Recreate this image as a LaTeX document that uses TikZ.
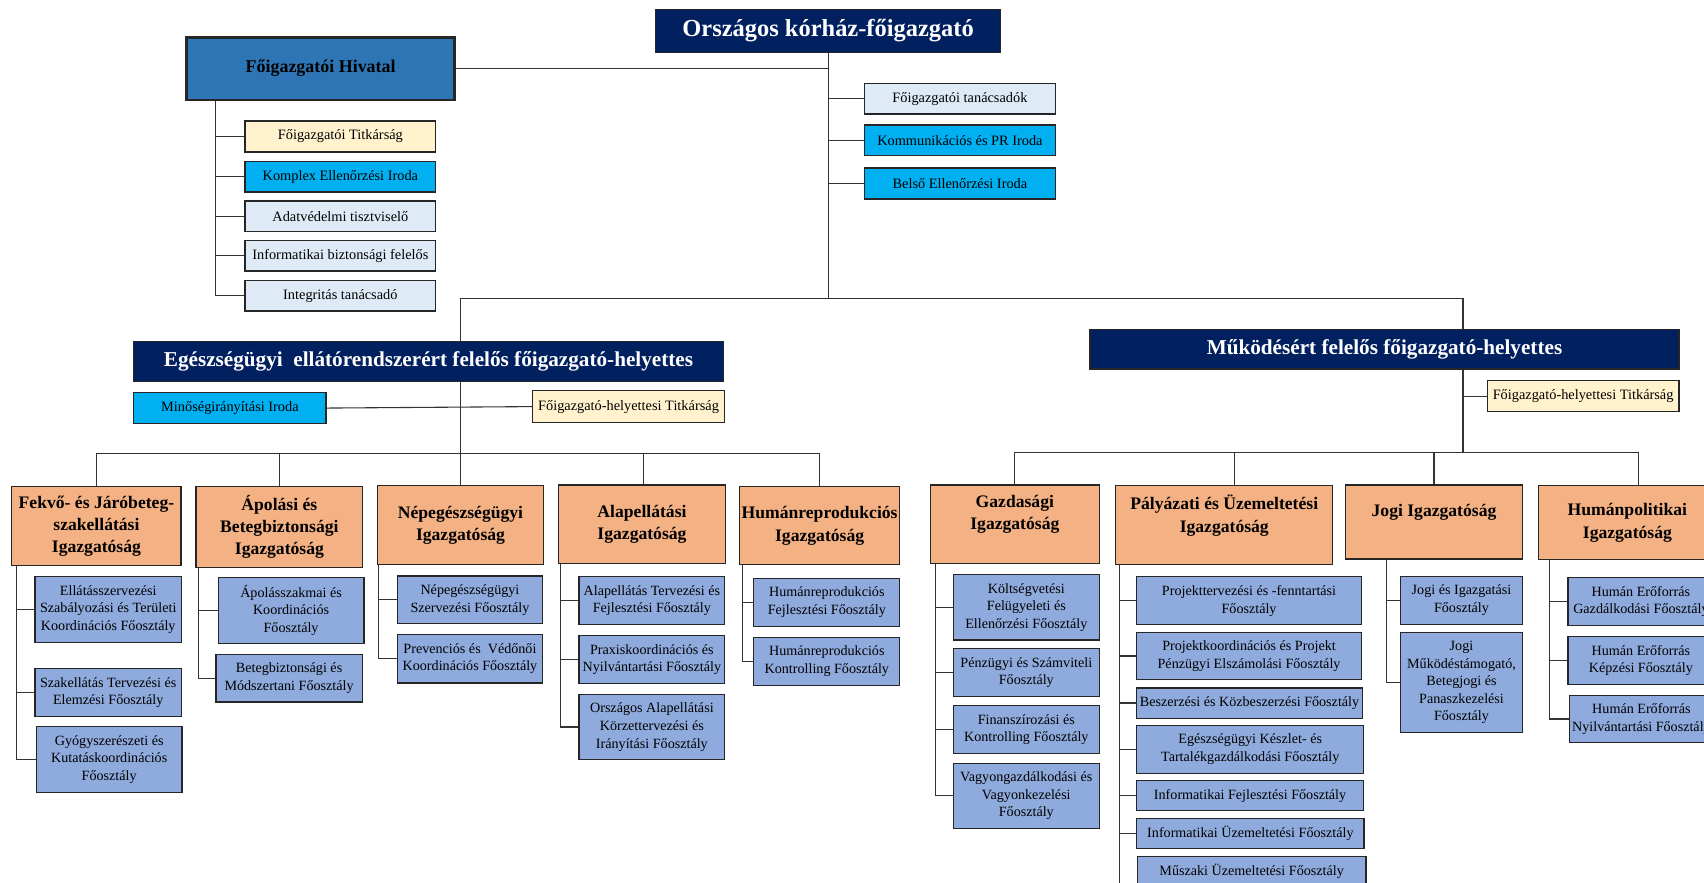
\documentclass[tikz,border=0pt]{standalone}
\usepackage{fontspec}
\setmainfont{Liberation Serif}
\definecolor{navy}{HTML}{002060}
\definecolor{hivblue}{HTML}{2E75B6}
\definecolor{cyanbox}{HTML}{00B0F0}
\definecolor{lightbox}{HTML}{DEEBF7}
\definecolor{creambox}{HTML}{FFF2CC}
\definecolor{orng}{HTML}{F4B183}
\definecolor{subblue}{HTML}{8FAADC}
\tikzset{
  bx/.style={draw=black!85, line width=1.1pt, inner sep=0.5pt, align=center,
    font=\fontsize{13.2}{16}\selectfont},
  sub/.style={bx, fill=subblue, font=\fontsize{13}{16.2}\selectfont},
  cyanb/.style={bx, fill=cyanbox},
  lightb/.style={bx, fill=lightbox},
  creamb/.style={bx, fill=creambox},
  dir/.style={bx, fill=orng, font=\bfseries\fontsize{16.2}{20.5}\selectfont},
  dirtext/.style={align=center, inner sep=0pt, font=\bfseries\fontsize{16.2}{20.5}\selectfont},
  hd/.style={bx, fill=navy, text=white, font=\bfseries\fontsize{19.5}{23}\selectfont},
  conn/.style={draw=black!80, line width=1pt},
}
\newcommand{\obox}[7]{%
  \node[#6, minimum width={(#4-#2)*1pt}, minimum height={(#5-#3)*1pt}] (#1) at ({(#2+#4)/2},{(#3+#5)/2}) {#7};}
\newcommand{\oboxup}[8]{%
  \node[#6, minimum width={(#4-#2)*1pt}, minimum height={(#5-#3)*1pt},
    label={[dirtext, yshift=#8]center:#7}] (#1) at ({(#2+#4)/2},{(#3+#5)/2}) {};}
\newcommand{\spine}[3]{%
  \foreach \c in {#3} {\draw[conn] ([xshift=#2pt]#1.south west) |- (\c.west);}}
\begin{document}
\begin{tikzpicture}[x=1pt,y=-1pt]
\useasboundingbox (0,0) rectangle (1568,812.5);
\clip (0,0) rectangle (1568,812.5);

% top level
\obox{top}{603}{8.6}{921}{48.5}{hd, font=\bfseries\fontsize{22.5}{26}\selectfont}{Országos kórház-főigazgató}
\obox{hiv}{171.8}{34.3}{418.3}{92}{bx, fill=hivblue, line width=2.6pt, font=\bfseries\fontsize{16.5}{19}\selectfont}{Főigazgatói Hivatal}
\obox{h1}{225.4}{111.3}{401}{139.8}{creamb}{Főigazgatói Titkárság}
\obox{h2}{225.4}{148.7}{401}{176.6}{cyanb}{Komplex Ellenőrzési Iroda}
\obox{h3}{225.4}{184.9}{401}{212.8}{lightb}{Adatvédelmi tisztviselő}
\obox{h4}{225.4}{221}{401}{249.3}{lightb}{Informatikai biztonsági felelős}
\obox{h5}{225.4}{257.9}{401}{286.1}{lightb}{Integritás tanácsadó}
\obox{r1}{795.6}{76.7}{971}{104.9}{lightb}{Főigazgatói tanácsadók}
\obox{r2}{795.6}{115}{971}{143.2}{cyanb}{Kommunikációs és PR Iroda}
\obox{r3}{795.6}{154.6}{971}{183.1}{cyanb}{Belső Ellenőrzési Iroda}

% deputies
\obox{ld}{123.2}{314.3}{665.4}{351.1}{hd}{Egészségügyi\ \ ellátórendszerért felelős főigazgató-helyettes}
\obox{mir}{123.2}{361}{300}{390}{cyanb}{Minőségirányítási Iroda}
\obox{lt}{490.3}{359.7}{666.4}{388.6}{creamb}{Főigazgató-helyettesi Titkárság}
\obox{rd}{1003}{303}{1545}{339.5}{hd}{Működésért felelős főigazgató-helyettes}
\obox{rt}{1368.5}{350.5}{1545}{378.7}{creamb}{Főigazgató-helyettesi Titkárság}

% directorates
\obox{fek}{10.9}{447.7}{166.6}{520.7}{dir}{Fekvő- és Járóbeteg-\\szakellátási\\Igazgatóság}
\obox{apo}{180.4}{447.7}{333.8}{522.2}{dir}{Ápolási és\\Betegbiztonsági\\Igazgatóság}
\obox{nep}{347.5}{447}{500}{519.8}{dir}{Népegészségügyi\\Igazgatóság}
\obox{alap}{513.9}{446.2}{667.6}{518.6}{dir}{Alapellátási\\Igazgatóság}
\obox{hrep}{680.4}{447.7}{828}{519.8}{dir}{Humánreprodukciós\\Igazgatóság}
\oboxup{gazd}{856}{446.2}{1011.7}{518.6}{dir}{Gazdasági\\Igazgatóság}{9pt}
\oboxup{paly}{1026.7}{447}{1226.4}{519.8}{dir}{Pályázati és Üzemeltetési\\Igazgatóság}{9pt}
\oboxup{jogi}{1238.3}{446.2}{1400.8}{514.3}{dir}{Jogi Igazgatóság}{9pt}
\obox{hpol}{1416}{447}{1579}{515.2}{dir}{Humánpolitikai\\Igazgatóság}

% departments
\obox{s11}{32.2}{530.5}{167}{591}{sub}{Ellátásszervezési\\Szabályozási és Területi\\Koordinációs Főosztály}
\obox{s12}{32.2}{615.5}{167}{659}{sub}{Szakellátás Tervezési és\\Elemzési Főosztály}
\obox{s13}{33.5}{668.5}{167.5}{729}{sub}{Gyógyszerészeti és\\Kutatáskoordinációs\\Főosztály}
\obox{s21}{200.7}{531.4}{335}{591.9}{sub}{Ápolásszakmai és\\Koordinációs\\Főosztály}
\obox{s22}{198.8}{602}{333.2}{646}{sub}{Betegbiztonsági és\\Módszertani Főosztály}
\obox{s31}{365.4}{530}{499.5}{574}{sub}{Népegészségügyi\\Szervezési Főosztály}
\obox{s32}{365.4}{584}{499.5}{628.4}{sub}{Prevenciós és\ \ Védőnői\\Koordinációs Főosztály}
\obox{s41}{532.7}{530.8}{667}{574.7}{sub}{Alapellátás Tervezési és\\Fejlesztési Főosztály}
\obox{s42}{532.7}{585}{667}{629}{sub}{Praxiskoordinációs és\\Nyilvántartási Főosztály}
\obox{s43}{532.7}{639}{667}{699}{sub}{Országos Alapellátási\\Körzettervezési és\\Irányítási Főosztály}
\obox{s51}{693.7}{532}{828}{576.2}{sub}{Humánreprodukciós\\Fejlesztési Főosztály}
\obox{s52}{693.7}{586.3}{828}{630.5}{sub}{Humánreprodukciós\\Kontrolling Főosztály}
\obox{s61}{877.4}{528.7}{1011.4}{589}{sub}{Költségvetési\\Felügyeleti és\\Ellenőrzési Főosztály}
\obox{s62}{877.4}{597}{1011.4}{641.2}{sub}{Pénzügyi és Számviteli\\Főosztály}
\obox{s63}{877.4}{649.2}{1011.4}{693.4}{sub}{Finanszírozási és\\Kontrolling Főosztály}
\obox{s64}{877.4}{702.3}{1011.4}{762.4}{sub}{Vagyongazdálkodási és\\Vagyonkezelési\\Főosztály}
\obox{s71}{1046}{530.8}{1252.7}{575}{sub}{Projekttervezési és -fenntartási\\Főosztály}
\obox{s72}{1046}{581.7}{1252.7}{625.6}{sub}{Projektkoordinációs és Projekt\\Pénzügyi Elszámolási Főosztály}
\obox{s73}{1046}{633}{1253.6}{660.8}{sub}{Beszerzési és Közbeszerzési Főosztály}
\obox{s74}{1046}{667.6}{1254.9}{711.5}{sub}{Egészségügyi Készlet- és\\Tartalékgazdálkodási Főosztály}
\obox{s75}{1046}{718.2}{1254.6}{746.1}{sub}{Informatikai Fejlesztési Főosztály}
\obox{s76}{1046}{752.9}{1255.2}{780.8}{sub}{Informatikai Üzemeltetési Főosztály}
\node[sub, minimum width=210.4pt, minimum height=42.5pt, anchor=north west] (s77) at (1046,787.5) {\rule{0pt}{17pt}Műszaki Üzemeltetési Főosztály\\[9pt]};
\obox{s81}{1288.9}{530.5}{1400.8}{574.4}{sub}{Jogi és Igazgatási\\Főosztály}
\obox{s82}{1288.9}{582}{1400.8}{674}{sub}{Jogi\\Működéstámogató,\\Betegjogi és\\Panaszkezelési\\Főosztály}
\obox{s91}{1442.9}{531.4}{1577}{575.6}{sub}{Humán Erőforrás\\Gazdálkodási Főosztály}
\obox{s92}{1442.9}{586}{1577}{629.6}{sub}{Humán Erőforrás\\Képzési Főosztály}
\obox{s93}{1443.9}{639.7}{1577}{683.6}{sub}{Humán Erőforrás\\Nyilvántartási Főosztály}

% connectors: top level
\coordinate (tbus) at (761.5,274.5);
\coordinate (lbus) at (423.6,417.7);
\coordinate (rbus) at (1346.2,416);
\draw[conn] (top.south) -- (top.south |- tbus);
\draw[conn] (top.south) |- (hiv.east);
\foreach \c in {r1,r2,r3} {\draw[conn] (top.south) |- (\c.west);}
\spine{hiv}{27.5}{h1,h2,h3,h4,h5}
\draw[conn] (ld.north -| lbus) |- (tbus) -| (rd.north -| rbus);

% left deputy
\draw[conn] (ld.south -| lbus) -- (lbus);
\draw[conn] (mir.east) -- (lt.west);
\draw[conn] (fek.north) |- (hrep.north |- lbus) -- (hrep.north);
\foreach \c in {apo,nep} {\draw[conn] (\c.north) -- (\c.north |- lbus);}
\draw[conn] ([xshift=1.8pt]alap.north) -- ([xshift=1.8pt]alap.north |- lbus);

% right deputy
\draw[conn] (rd.south -| rbus) -- (rbus);
\draw[conn] (rd.south -| rbus) |- (rt.west);
\draw[conn] (gazd.north) |- ([xshift=10.5pt]hpol.north |- rbus) -- ([xshift=10.5pt]hpol.north);
\draw[conn] ([xshift=9.5pt]paly.north) -- ([xshift=9.5pt]paly.north |- rbus);
\draw[conn] (jogi.north) -- (jogi.north |- rbus);

% spines to departments
\spine{fek}{4.9}{s11,s12,s13}
\spine{apo}{2.9}{s21,s22}
\spine{nep}{1.5}{s31,s32}
\spine{alap}{2}{s41,s42,s43}
\spine{hrep}{3}{s51,s52}
\spine{gazd}{5.1}{s61,s62,s63,s64}
\spine{paly}{3.7}{s71,s72,s73,s74,s75,s76}
\draw[conn] ([xshift=3.7pt]paly.south west) |- ([yshift=-15pt]s77.west);
\spine{jogi}{38.1}{s81,s82}
\spine{hpol}{10.6}{s91,s92,s93}
\end{tikzpicture}
\end{document}
